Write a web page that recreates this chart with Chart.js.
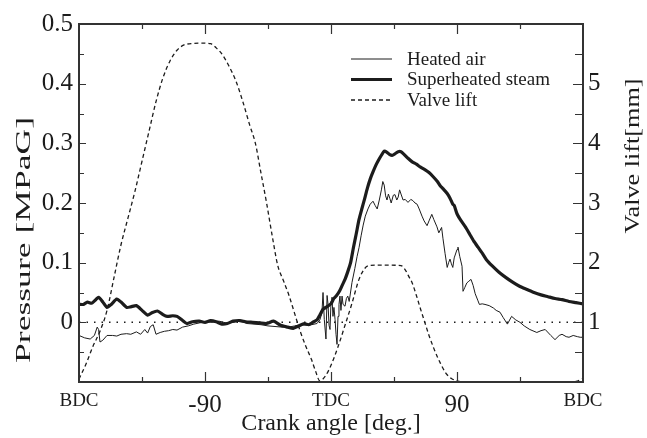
<!DOCTYPE html>
<html>
<head>
<meta charset="utf-8">
<script src="https://cdn.jsdelivr.net/npm/chart.js@4"></script>
<style>
html, body { margin: 0; padding: 0; background: #fff; }
</style>
</head>
<body>
<canvas id="chart" width="647" height="438"></canvas>
<script>
// crank angle [deg] -> pressure [MPaG]
const airAngle = [-180,-176,-172,-169,-167,-166,-165,-163,-160,-156,-153,-150,-146,-143,-139,-136,-133,-131,-129,-127,-125,-122,-119,-116,-113,-110,-106,-102,-98,-94,-90,-85,-80,-75,-70,-65,-60,-55,-50,-45,-40,-35,-30,-26,-22,-18,-14,-10,-8,-6.5,-5.7,-4.8,-3.6,-2.8,-2.1,-1.4,-0.7,0,0.7,1.4,2.1,2.9,3.6,4.3,5,5.7,6.4,7.1,7.9,8.6,10,11,12,13,15,17,18.6,20,21.5,23,24.5,26.4,28,30,31.5,33,34.5,36,37,38,39,40,41,42,43,44.5,45.7,47,48,49,50,51.5,53,55,57,58.5,60,61.5,63,65,66.5,68.6,70,72,73.5,75.7,77,79,80,81.5,83,84,85,86,87,88,90,90.7,92,93.6,94.3,95.5,97,98,100,101.5,103,105,106,108,110,113,116,118,120.7,123,126,129,132,135,138,142,147,150,153,157,160,163,165,168,170,173,176,178,180];
const airPressure = [-0.022,-0.026,-0.028,-0.022,-0.008,-0.012,-0.033,-0.030,-0.022,-0.022,-0.023,-0.020,-0.019,-0.020,-0.016,-0.020,-0.012,-0.018,-0.007,-0.004,-0.020,-0.017,-0.015,-0.014,-0.012,-0.013,-0.008,-0.006,-0.003,-0.001,0.001,0.000,0.002,-0.001,0.000,0.002,-0.002,-0.003,-0.004,-0.006,-0.007,-0.008,-0.008,-0.006,-0.004,-0.005,-0.004,-0.002,0.004,0.015,0.050,0.005,-0.028,0.045,0.030,-0.005,-0.012,0.035,0.042,0.010,0.025,0.005,-0.020,-0.037,0.010,0.030,0.044,0.020,0.044,0.030,0.027,0.040,0.044,0.035,0.067,0.090,0.110,0.125,0.145,0.163,0.178,0.190,0.198,0.203,0.196,0.190,0.205,0.222,0.236,0.230,0.212,0.205,0.215,0.208,0.200,0.213,0.214,0.205,0.210,0.222,0.215,0.205,0.206,0.201,0.206,0.204,0.200,0.198,0.190,0.178,0.170,0.162,0.170,0.181,0.172,0.160,0.150,0.159,0.140,0.115,0.092,0.100,0.106,0.098,0.092,0.108,0.122,0.126,0.110,0.094,0.052,0.058,0.066,0.068,0.072,0.062,0.048,0.036,0.030,0.031,0.030,0.028,0.024,0.020,0.017,0.008,-0.003,0.010,0.004,0.000,-0.006,-0.012,-0.017,-0.014,-0.012,-0.022,-0.029,-0.022,-0.020,-0.024,-0.025,-0.022,-0.024,-0.025,-0.025];

const steamAngle = [-180,-177,-174,-171,-168,-166,-163,-160,-157,-153,-150,-146,-143,-139,-135,-131,-128,-124,-120,-117,-113,-110,-106,-103,-99,-94,-90,-86,-82,-78,-74,-70,-65,-61,-56,-51,-46,-41,-36,-31,-27,-23,-19,-16,-13,-10,-8,-5.7,-3,0,2,4,6,8,10,12,14,16,18,20,22,24,26,28,30,32,34,36,38,40,42,44,46,48,50,52,55,58,61,64,67,70,73,76,78,80,83,85,87,88,90,93,96,99,102,105,108,111,115,120,125,130,135,140,145,150,155,160,165,170,175,180];
const steamPressure = [0.030,0.030,0.034,0.032,0.038,0.042,0.034,0.025,0.030,0.039,0.034,0.025,0.026,0.028,0.020,0.012,0.016,0.019,0.013,0.010,0.011,0.010,0.003,-0.002,0.001,0.002,0.000,0.003,0.001,-0.003,-0.002,0.002,0.003,0.001,0.000,-0.001,-0.002,0.002,-0.005,-0.008,-0.010,-0.006,-0.002,-0.004,0.000,0.004,0.012,0.022,0.026,0.031,0.040,0.045,0.052,0.062,0.072,0.085,0.100,0.125,0.148,0.172,0.190,0.207,0.225,0.240,0.252,0.263,0.272,0.280,0.287,0.285,0.281,0.280,0.283,0.286,0.286,0.282,0.275,0.269,0.265,0.260,0.256,0.251,0.244,0.236,0.229,0.224,0.216,0.208,0.198,0.196,0.182,0.170,0.160,0.148,0.136,0.126,0.116,0.105,0.095,0.084,0.075,0.067,0.060,0.055,0.050,0.046,0.043,0.040,0.038,0.035,0.033,0.031];

// crank angle [deg] -> valve lift [mm]
const liftAngle = [-180,-175,-170,-165,-160,-155,-150,-145,-140,-135,-130,-125,-120,-115,-110,-105,-100,-93,-86,-82,-78,-73,-68,-63,-58,-54,-50,-46,-42,-38,-34,-30,-26,-22,-18,-14,-11,-8,-4,0,5,10,15,20,24,27,38,50,53,56,58,61,64,67,70,73,76,78,82,86,90,95,170,175,180];
const liftValue = [0.05,0.3,0.6,0.85,1.2,1.75,2.3,2.75,3.2,3.7,4.2,4.7,5.1,5.38,5.56,5.65,5.67,5.68,5.67,5.6,5.5,5.3,5.05,4.7,4.3,4.0,3.5,3.0,2.45,1.95,1.7,1.45,1.15,0.85,0.6,0.38,0.18,0.02,0.1,0.28,0.59,0.95,1.32,1.72,1.9,1.95,1.96,1.95,1.88,1.75,1.66,1.45,1.22,1.0,0.78,0.59,0.42,0.32,0.15,0.06,0.02,0,0,0.01,0.06];

// dotted reference line at 0 MPaG
const zeroAngle = [-180, 180];
const zeroPressure = [0, 0];

const xTickLabels = { '-180': 'BDC', '-90': '-90', '0': 'TDC', '90': '90', '180': 'BDC' };

const serif = "'Liberation Serif', 'Times New Roman', serif";
const ink = '#1c1c1c';

const toPoints = (xs, ys) => xs.map((x, i) => ({ x: x, y: ys[i] }));
const isMultiple = (v, step) => Math.abs(Math.round(v / step) * step - v) < 1e-6;

function stretchedText(c, text, cx, cy, size, length, angle) {
    c.save();
    c.translate(cx, cy);
    c.rotate(angle);
    c.font = size + 'px ' + serif;
    const w = c.measureText(text).width;
    c.scale(length / w, 1);
    c.textAlign = 'center';
    c.textBaseline = 'middle';
    c.fillStyle = ink;
    c.fillText(text, 0, 0);
    c.restore();
}

// frame, inward ticks, axis titles and legend
const decorations = {
    id: 'decorations',
    afterDatasetsDraw(chart) {
        const c = chart.ctx, a = chart.chartArea;
        const sx = chart.scales.x, sy = chart.scales.y, sy1 = chart.scales.y1;
        c.save();
        c.strokeStyle = '#333';
        c.lineWidth = 1.2;
        c.beginPath();
        sx.ticks.forEach(t => {
            if (t.value <= sx.min || t.value >= sx.max) return;
            const px = Math.round(sx.getPixelForValue(t.value)) + 0.5;
            const len = isMultiple(t.value, 90) ? 10 : 5;
            c.moveTo(px, a.bottom); c.lineTo(px, a.bottom - len);
            c.moveTo(px, a.top); c.lineTo(px, a.top + len);
        });
        sy.ticks.forEach(t => {
            if (t.value <= sy.min || t.value >= sy.max) return;
            const py = Math.round(sy.getPixelForValue(t.value)) + 0.5;
            const len = isMultiple(t.value, 0.1) ? 7 : 5;
            c.moveTo(a.left, py); c.lineTo(a.left + len, py);
        });
        sy1.ticks.forEach(t => {
            if (t.value <= sy1.min || t.value >= sy1.max) return;
            const py = Math.round(sy1.getPixelForValue(t.value)) + 0.5;
            const len = isMultiple(t.value, 1) ? 10 : 8;
            c.moveTo(a.right, py); c.lineTo(a.right - len, py);
        });
        c.stroke();
        c.lineWidth = 2;
        c.strokeRect(a.left, a.top, a.right - a.left, a.bottom - a.top);
        c.restore();
    },
    afterDraw(chart) {
        const c = chart.ctx;
        stretchedText(c, 'Pressure [MPaG]', 24, 240, 21, 246, -Math.PI / 2);
        stretchedText(c, 'Valve lift[mm]', 633, 156, 21, 155, -Math.PI / 2);

        const rows = [
            { text: 'Heated air', width: 1, dash: [] },
            { text: 'Superheated steam', width: 3.2, dash: [] },
            { text: 'Valve lift', width: 1.3, dash: [4, 3] }
        ];
        c.save();
        c.font = '19px ' + serif;
        c.fillStyle = ink;
        c.strokeStyle = ink;
        c.textBaseline = 'middle';
        rows.forEach((r, i) => {
            const y = 59 + i * 20.5;
            c.lineWidth = r.width;
            c.setLineDash(r.dash);
            c.beginPath();
            c.moveTo(351, y); c.lineTo(392, y);
            c.stroke();
            c.fillText(r.text, 407, y + 1);
        });
        c.restore();
    }
};

const ctx = document.getElementById('chart');
const chart = new Chart(ctx, {
    type: 'line',
    data: {
        datasets: [
            {
                label: 'Superheated steam',
                data: toPoints(steamAngle, steamPressure),
                yAxisID: 'y',
                borderColor: ink,
                borderWidth: 3.2,
                pointRadius: 0,
                tension: 0.2
            },
            {
                label: 'Heated air',
                data: toPoints(airAngle, airPressure),
                yAxisID: 'y',
                borderColor: ink,
                borderWidth: 1,
                pointRadius: 0,
                tension: 0
            },
            {
                label: 'Valve lift',
                data: toPoints(liftAngle, liftValue),
                yAxisID: 'y1',
                borderColor: ink,
                borderWidth: 1.3,
                borderDash: [4, 3],
                pointRadius: 0,
                cubicInterpolationMode: 'monotone'
            },
            {
                label: 'zero',
                data: toPoints(zeroAngle, zeroPressure),
                yAxisID: 'y',
                borderColor: ink,
                borderWidth: 1.5,
                borderDash: [1.5, 6],
                pointRadius: 0
            }
        ]
    },
    options: {
        responsive: false,
        animation: false,
        layout: { padding: { top: 24, left: 0, right: 0, bottom: 0 } },
        plugins: {
            legend: { display: false },
            tooltip: { enabled: false }
        },
        scales: {
            x: {
                type: 'linear',
                min: -180,
                max: 180,
                afterFit: s => { s.height = 56; },
                grid: { display: false, drawTicks: false },
                border: { display: false },
                ticks: {
                    stepSize: 45,
                    autoSkip: false,
                    maxRotation: 0,
                    padding: 8,
                    color: ink,
                    font: c => ({ family: serif, size: (c.tick && isMultiple(c.tick.value, 180)) ? 19 : 25 }),
                    callback: v => xTickLabels[String(v)] || ''
                },
                title: {
                    display: true,
                    text: 'Crank angle [deg.]',
                    color: ink,
                    font: { family: serif, size: 24 },
                    padding: 0
                }
            },
            y: {
                position: 'left',
                min: -0.1,
                max: 0.5,
                afterFit: s => { s.width = 79; },
                grid: { display: false, drawTicks: false },
                border: { display: false },
                ticks: {
                    stepSize: 0.05,
                    autoSkip: false,
                    padding: 6,
                    color: ink,
                    font: { family: serif, size: 25 },
                    callback: v => {
                        if (v < -1e-6 || !isMultiple(v, 0.1)) return '';
                        const r = Math.round(v * 10) / 10;
                        return r === 0 ? '0' : r.toFixed(1);
                    }
                }
            },
            y1: {
                position: 'right',
                min: 0,
                max: 6,
                afterFit: s => { s.width = 64; },
                grid: { display: false, drawTicks: false },
                border: { display: false },
                ticks: {
                    stepSize: 0.5,
                    autoSkip: false,
                    padding: 5,
                    color: ink,
                    font: { family: serif, size: 25 },
                    callback: v => (isMultiple(v, 1) && v >= 1 && v <= 5) ? String(Math.round(v)) : ''
                }
            }
        }
    },
    plugins: [decorations]
});
</script>
</body>
</html>
